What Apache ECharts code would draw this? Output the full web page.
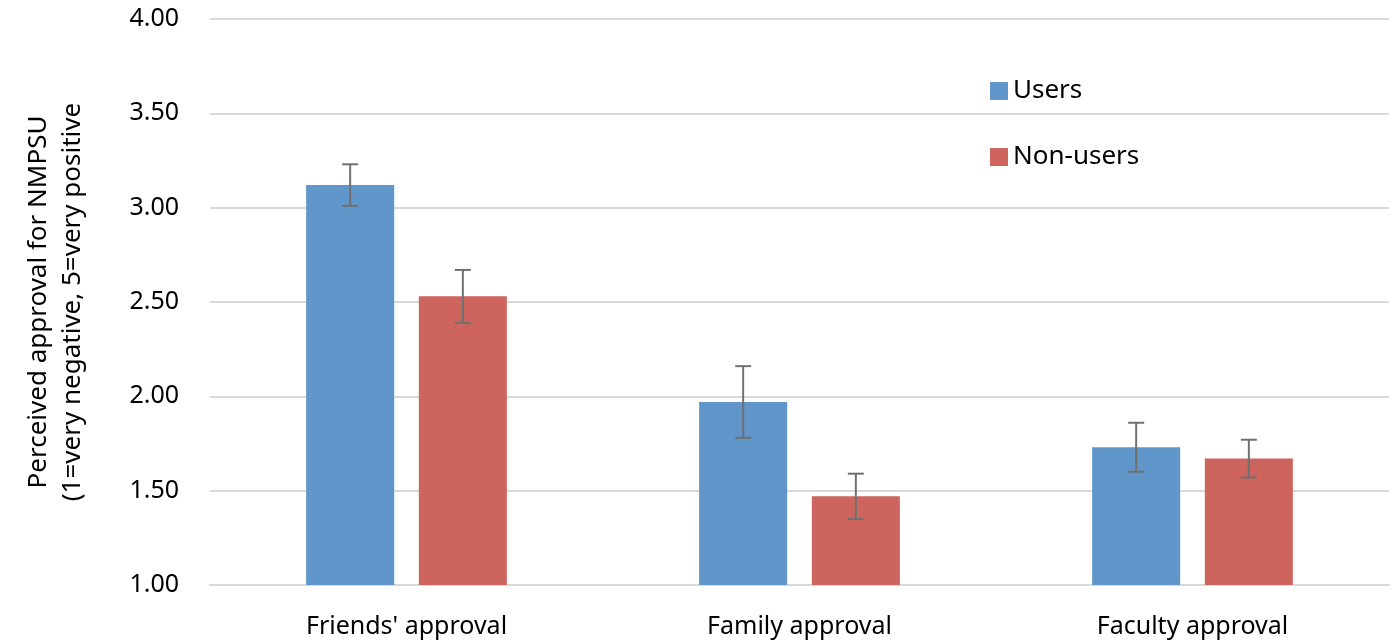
<!DOCTYPE html>
<html>
<head>
<meta charset="utf-8">
<script src="https://cdn.jsdelivr.net/npm/echarts@6/dist/echarts.min.js"></script>
<style>
html,body{margin:0;padding:0;background:#fff;}
#chart{width:1392px;height:643px;}
</style>
</head>
<body>
<div id="chart"></div>
<script>
const categories = ["Friends' approval", "Family approval", "Faculty approval"];
const seriesNames = ["Users", "Non-users"];
const usersValues = [3.12, 1.97, 1.73];
const nonUsersValues = [2.53, 1.47, 1.67];
const usersErr = [0.11, 0.19, 0.13];
const nonUsersErr = [0.14, 0.12, 0.10];
const yTicks = [1.0, 1.5, 2.0, 2.5, 3.0, 3.5, 4.0];

const FONT = "'Noto Sans', sans-serif";
const BAR_PCT = 0.224, GAP_PCT = 0.28;

function errSeries(vals, errs, sign) {
  return {
    type: 'custom',
    silent: true,
    z: 5,
    data: vals.map((v, i) => [i, v, errs[i]]),
    renderItem: function (params, api) {
      const i = api.value(0), v = api.value(1), e = api.value(2);
      const band = api.size([1, 0])[0];
      const bw = band * BAR_PCT;
      const off = sign * bw * (1 + GAP_PCT) / 2;
      const top = api.coord([i, v + e]);
      const bot = api.coord([i, v - e]);
      const x = top[0] + off;
      const cap = 8;
      const style = { stroke: '#707070', lineWidth: 2 };
      return {
        type: 'group',
        children: [
          { type: 'line', shape: { x1: x, y1: top[1], x2: x, y2: bot[1] }, style: style },
          { type: 'line', shape: { x1: x - cap, y1: top[1], x2: x + cap, y2: top[1] }, style: style },
          { type: 'line', shape: { x1: x - cap, y1: bot[1], x2: x + cap, y2: bot[1] }, style: style }
        ]
      };
    }
  };
}

const chart = echarts.init(document.getElementById('chart'));
chart.setOption({
  animation: false,
  backgroundColor: '#fff',
  grid: { left: 210, right: 3, top: 19, bottom: 58 },
  legend: {
    data: seriesNames,
    orient: 'vertical',
    left: 985,
    top: 73,
    itemWidth: 18,
    itemHeight: 18,
    itemGap: 40,
    icon: 'rect',
    textStyle: { fontFamily: FONT, fontSize: 26, color: '#000' }
  },
  xAxis: {
    type: 'category',
    data: categories,
    axisLine: { lineStyle: { color: '#d9d9d9', width: 2 } },
    axisTick: { show: false },
    axisLabel: { fontFamily: FONT, fontSize: 25, color: '#000', margin: 29 }
  },
  yAxis: {
    type: 'value',
    min: yTicks[0],
    max: yTicks[yTicks.length - 1],
    interval: 0.5,
    name: 'Perceived approval for NMPSU\n(1=very negative, 5=very positive',
    nameLocation: 'middle',
    nameGap: 120,
    nameRotate: 90,
    nameTextStyle: { fontFamily: FONT, fontSize: 26, color: '#000', lineHeight: 34 },
    axisLine: { show: false },
    axisTick: { show: false },
    splitLine: { lineStyle: { color: '#d9d9d9', width: 2 } },
    axisLabel: {
      fontFamily: FONT, fontSize: 25, color: '#000', margin: 31,
      formatter: v => v.toFixed(2)
    }
  },
  series: [
    {
      name: seriesNames[0], type: 'bar', data: usersValues,
      barWidth: (BAR_PCT * 100) + '%', barGap: (GAP_PCT * 100) + '%',
      itemStyle: { color: '#6096C9' }
    },
    {
      name: seriesNames[1], type: 'bar', data: nonUsersValues,
      barWidth: (BAR_PCT * 100) + '%', barGap: (GAP_PCT * 100) + '%',
      itemStyle: { color: '#CD655E' }
    },
    errSeries(usersValues, usersErr, -1),
    errSeries(nonUsersValues, nonUsersErr, 1)
  ]
});
</script>
</body>
</html>
